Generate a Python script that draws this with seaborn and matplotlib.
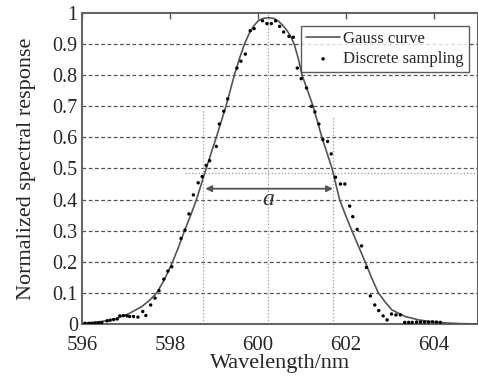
import numpy as np
import pandas as pd
import matplotlib
matplotlib.use("Agg")
import matplotlib.pyplot as plt
import seaborn as sns

# Gauss curve, points
curve_wl = [596.0, 596.2, 596.45, 596.75, 597.05, 597.36, 597.55, 597.7, 597.88,
            598.06, 598.2, 598.33, 598.47, 598.6, 598.82, 599.05, 599.27, 599.46,
            599.58, 599.69, 599.8, 599.9, 600.0, 600.12, 600.23, 600.35, 600.45,
            600.55, 600.65, 600.74, 600.82, 600.91, 601.0, 601.25, 601.45, 601.68,
            601.85, 602.0, 602.13, 602.28, 602.43, 602.58, 602.73, 602.9, 603.04,
            603.34, 603.65, 603.95, 604.3, 604.6, 605.0]
curve_val = [0.002, 0.004, 0.008, 0.016, 0.032, 0.056, 0.078, 0.10, 0.145,
             0.20, 0.25, 0.30, 0.35, 0.40, 0.50, 0.60, 0.70, 0.80,
             0.855, 0.90, 0.935, 0.958, 0.975, 0.983, 0.985, 0.983, 0.975,
             0.962, 0.945, 0.925, 0.90, 0.855, 0.80, 0.70, 0.60, 0.50,
             0.40, 0.345, 0.30, 0.25, 0.20, 0.148, 0.10, 0.068, 0.045,
             0.024, 0.013, 0.007, 0.003, 0.001, 0.0]

# discrete sampling dots
samp_wl = [596.07, 596.15, 596.22, 596.3, 596.38, 596.45, 596.57, 596.64, 596.72,
           596.8, 596.86, 596.94, 597.02, 597.08, 597.17, 597.27, 597.38, 597.45,
           597.56, 597.66, 597.75, 597.86, 597.95, 598.04, 598.25, 598.34, 598.43,
           598.53, 598.64, 598.73, 598.82, 598.9, 599.05, 599.12, 599.22, 599.31,
           599.52, 599.61, 599.71, 599.82, 599.91, 600.1, 600.2, 600.3, 600.4,
           600.49, 600.58, 600.7, 600.8, 600.89, 600.98, 601.1, 601.21, 601.29,
           601.38, 601.47, 601.58, 601.66, 601.76, 601.87, 601.97, 602.08, 602.15,
           602.25, 602.35, 602.46, 602.55, 602.65, 602.74, 602.84, 602.93, 603.03,
           603.13, 603.23, 603.33, 603.42, 603.5, 603.6, 603.69, 603.78, 603.87,
           603.96, 604.05, 604.14]
samp_val = [0.002, 0.002, 0.002, 0.003, 0.004, 0.004, 0.01, 0.012, 0.014,
            0.016, 0.026, 0.027, 0.026, 0.024, 0.024, 0.022, 0.04, 0.027,
            0.061, 0.083, 0.107, 0.144, 0.17, 0.184, 0.275, 0.302, 0.354,
            0.415, 0.454, 0.474, 0.51, 0.525, 0.571, 0.643, 0.684, 0.724,
            0.823, 0.845, 0.868, 0.943, 0.95, 0.975, 0.966, 0.966, 0.975,
            0.957, 0.939, 0.925, 0.922, 0.823, 0.789, 0.759, 0.70, 0.682,
            0.643, 0.593, 0.587, 0.547, 0.472, 0.45, 0.45, 0.379, 0.345,
            0.304, 0.251, 0.182, 0.09, 0.061, 0.043, 0.026, 0.013, 0.032,
            0.029, 0.029, 0.005, 0.005, 0.005, 0.006, 0.006, 0.006, 0.006,
            0.007, 0.006, 0.005]

fwhm_left, fwhm_center, fwhm_right = 598.75, 600.23, 601.7

curve = pd.DataFrame({"wl": curve_wl, "val": curve_val})
samp = pd.DataFrame({"wl": samp_wl, "val": samp_val})

sns.set_style("white")
plt.rcParams['font.family'] = ['Liberation Serif', 'DejaVu Serif']

fig = plt.figure(figsize=(4.78, 3.78), dpi=100)
ax = fig.add_axes([0.1715, 0.143, 0.829, 0.8225])

# horizontal dashed grid
for g in np.arange(0.1, 0.95, 0.1):
    ax.axhline(g, color='#555555', lw=0.9, ls=(0, (3, 2)), zorder=1)

# dotted guide lines of the half width
ax.vlines(fwhm_left, 0, 0.69, colors='#999999', lw=0.9, ls=':', zorder=1)
ax.vlines(fwhm_right, 0, 0.67, colors='#999999', lw=0.9, ls=':', zorder=1)
ax.vlines(fwhm_center, 0, 1, colors='#999999', lw=0.9, ls=':', zorder=1)
ax.hlines(0.487, 598.35, 605, colors='#999999', lw=0.9, ls=':', zorder=1)

sns.lineplot(data=curve, x="wl", y="val", ax=ax, color='#555555', lw=1.2,
             label='Gauss curve', zorder=3, sort=False)
sns.scatterplot(data=samp, x="wl", y="val", ax=ax, color='black', s=6,
                edgecolor='none', label='Discrete sampling', zorder=4)

ax.annotate('', xy=(fwhm_left + 0.05, 0.435), xytext=(fwhm_right, 0.435),
            arrowprops=dict(arrowstyle='<|-|>', color='#555555', lw=1.3,
                            mutation_scale=9, shrinkA=0, shrinkB=0))
ax.text(fwhm_center, 0.40, 'a', style='italic', fontsize=17, ha='center',
        va='center', color='#333333')

ax.set_xlim(596, 605)
ax.set_ylim(0, 1)
ax.set_xticks([596, 598, 600, 602, 604])
ax.set_yticks([0, 0.1, 0.2, 0.3, 0.4, 0.5, 0.6, 0.7, 0.8, 0.9, 1])
ax.set_yticklabels(['0', '0.1', '0.2', '0.3', '0.4', '0.5', '0.6', '0.7',
                    '0.8', '0.9', '1'])
ax.tick_params(axis='x', direction='in', length=4, width=1, color='#555555',
               top=True, labelsize=15, pad=9)
ax.tick_params(axis='y', direction='in', length=0, labelsize=14.5, pad=3)
for s in ax.spines.values():
    s.set_color('#666666')
    s.set_linewidth(1.5)

ax.set_xlabel('Wavelength/nm', fontsize=16, labelpad=-1)
ax.set_ylabel('Normalized spectral response', fontsize=16, labelpad=12)

leg = ax.legend(loc='upper right', bbox_to_anchor=(0.997, 0.985),
                fontsize=12, frameon=True, fancybox=False, handlelength=2.0,
                handletextpad=0.2, borderpad=0.3, labelspacing=0.25,
                markerscale=1.0)
leg.get_frame().set_edgecolor('#333333')
leg.get_frame().set_linewidth(1.0)

fig.savefig('out.png', dpi=100)
